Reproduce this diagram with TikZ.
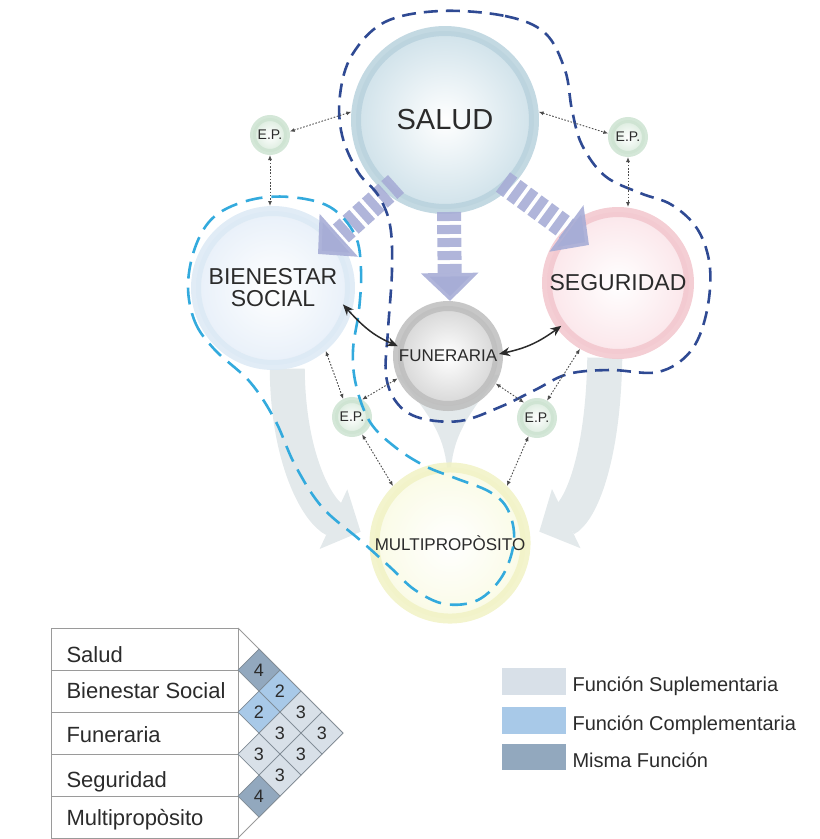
\documentclass[tikz,border=0pt]{standalone}
\usepackage{fontspec}
\setmainfont{Liberation Sans}
\usetikzlibrary{arrows.meta,calc}
\pgfdeclarelayer{bg}
\pgfsetlayers{bg,main}

\definecolor{ink}{HTML}{2B2B2B}
\definecolor{dkblue}{HTML}{2F4A93}
\definecolor{ltblue}{HTML}{33AADD}
\definecolor{stripec}{HTML}{A7ADD6}
\definecolor{flowc}{HTML}{E3E9EB}
\definecolor{saludring}{HTML}{B9D2DD}
\definecolor{saludfill}{HTML}{D0E2EA}
\definecolor{bienring}{HTML}{DCE9F5}
\definecolor{bienfill}{HTML}{E8F0F9}
\definecolor{segring}{HTML}{F2C6CD}
\definecolor{segfill}{HTML}{FBE6EA}
\definecolor{funring}{HTML}{BDBDBD}
\definecolor{funfill}{HTML}{D6D6D6}
\definecolor{multring}{HTML}{F1F2C4}
\definecolor{multfill}{HTML}{FAFBE6}
\definecolor{epring}{HTML}{CDE3D1}
\definecolor{epfill}{HTML}{DAEBDD}
\definecolor{tabline}{HTML}{9A9A9A}
\definecolor{cellline}{HTML}{7F8A94}
\definecolor{supl}{HTML}{D8E0E8}
\definecolor{compl}{HTML}{A8C9E8}
\definecolor{misma}{HTML}{92A8BE}

\begin{document}
\begin{tikzpicture}[x=1pt,y=-1pt,
  every node/.style={text=ink},
  lbl/.style={font=\fontsize{#1}{#1}\selectfont},
  orb/.style n args={4}{circle, inner sep=0pt, minimum size=#1, shade,
    inner color=white, outer color=#2, draw=#3, draw opacity=.85, line width=#4},
  flow/.style={draw=flowc, line width=35pt, -{Triangle[width=64pt,length=30pt]}},
  stripes/.style={draw=stripec, draw opacity=.9, line width=24pt,
    dash pattern=on 9pt off 4pt, -{Triangle[width=56pt,length=28pt]}},
  darkdash/.style={draw=dkblue, line width=2.6pt, dash pattern=on 14pt off 8pt},
  lightdash/.style={draw=ltblue, line width=2.6pt, dash pattern=on 17pt off 9pt},
  dotarr/.style={draw=ink!85, line width=0.9pt, dash pattern=on 1.6pt off 1.6pt,
    {Latex[length=5pt,width=4pt]}-{Latex[length=5pt,width=4pt]}},
  solidarr/.style={draw=ink, line width=1.5pt,
    {Stealth[length=11pt,width=9pt]}-{Stealth[length=11pt,width=9pt]}},
  tab/.style={draw=tabline, line width=0.8pt}
]
\useasboundingbox (0,0) rectangle (820,839);

% ---------- the five services and the four E.P. nodes ----------
\node[orb={178pt}{saludfill}{saludring}{10pt}, lbl=29] (salud) at (445,120) {SALUD};
\node[orb={154pt}{bienfill}{bienring}{10pt}, lbl=23, align=center] (bien) at (273,288)
  {BIENESTAR\\[-1pt]SOCIAL};
\node[orb={142pt}{segfill}{segring}{10pt}, lbl=23] (seg) at (618,283) {SEGURIDAD};
\node[orb={100pt}{funfill}{funring}{10pt}, lbl=17] (fun) at (448,356) {FUNERARIA};
\node[orb={96pt}{multfill}{multring}{10pt}, lbl=17] (multi) at (450,543) {MULTIPROPÒSITO};

\node[orb={34pt}{epfill}{epring}{6pt}, lbl=14] (epTL) at (270,135) {E.P.};
\node[orb={34pt}{epfill}{epring}{6pt}, lbl=14] (epTR) at (628,137) {E.P.};
\node[orb={34pt}{epfill}{epring}{6pt}, lbl=14] (epBL) at (352,417) {E.P.};
\node[orb={34pt}{epfill}{epring}{6pt}, lbl=14] (epBR) at (537,418) {E.P.};

% ---------- broad flows towards Multipropòsito (behind everything) ----------
\begin{pgfonlayer}{bg}
  \draw[flow, shorten >=10pt] (bien.-80) .. controls (288,460) and (318,512) .. (multi.175);
  \draw[flow, shorten >=10pt] (seg.-100) .. controls (603,460) and (580,512) .. (multi.5);
  \fill[flowc] (fun.-160) .. controls (440,425) and (446,445) .. (448,480)
    -- (450,480) .. controls (452,445) and (458,425) .. (fun.-20) -- cycle;
\end{pgfonlayer}

% ---------- striped arrows leaving Salud ----------
\coordinate (sL) at (396,184);
\coordinate (tL) at (318,254);
\coordinate (sM) at (449,212);
\coordinate (tM) at (450,301);
\coordinate (sR) at (503,182);
\coordinate (tR) at (589,245);
\draw[stripes] (sL) -- (tL);
\draw[stripes] (sM) -- (tM);
\draw[stripes] (sR) -- (tR);

% ---------- grouping contours ----------
\draw[darkdash] plot[smooth cycle, tension=0.6] coordinates {
  (440,11) (505,16) (545,33) (565,70) (572,110) (582,145) (605,176) (640,193)
  (672,205) (698,230) (710,268) (706,315) (690,352) (658,372) (610,370) (568,374)
  (535,390) (500,407) (460,421) (420,418) (397,403) (386,375) (388,330) (392,270)
  (390,225) (378,195) (358,172) (342,135) (340,95) (352,55) (385,22)};

\draw[lightdash] plot[smooth cycle, tension=0.6] coordinates {
  (188,285) (195,322) (215,350) (250,382) (275,420) (295,465) (322,507) (360,540)
  (390,567) (415,590) (445,604) (478,600) (503,575) (514,540) (508,510) (490,492)
  (455,478) (425,466) (395,447) (370,422) (356,385) (353,350) (359,310) (361,270)
  (355,235) (330,207) (290,197) (250,200) (215,216) (196,245)};

% ---------- direct relations ----------
\draw[solidarr, shorten <=-12pt, shorten >=-4pt] (bien.-18) to[bend right=12] (fun.168);
\draw[solidarr, shorten <=-5pt, shorten >=-4pt] (seg.-143) to[bend left=12] (fun.3);

% ---------- links through the E.P. nodes ----------
\draw[dotarr] (epTL.10) -- (salud.175);
\draw[dotarr] (salud.5) -- (epTR.170);
\draw[dotarr] (epTL.south) -- (epTL.south |- bien.north);
\draw[dotarr] (epTR.south) -- (epTR.south |- seg.north);
\draw[dotarr] (bien.-50) -- (epBL.116);
\draw[dotarr] (fun.204) -- (epBL.60);
\draw[dotarr] (epBL.-60) -- (multi.135);
\draw[dotarr] (fun.-30) -- (epBR.130);
\draw[dotarr] (seg.-120) -- (epBR.60);
\draw[dotarr] (epBR.-115) -- (multi.45);

% ---------- relation table ----------
\draw[tab] (51,628) rectangle (238,838);
\foreach \yb in {670,712,754,796} \draw[tab] (51,\yb) -- (238,\yb);
\draw[tab] (238,628) -- (343,733) -- (238,838);
\foreach \x/\y/\n/\c [count=\k] in {259/670/4/misma, 280/691/2/compl, 259/712/2/compl,
    301/712/3/supl, 280/733/3/supl, 322/733/3/supl, 259/754/3/supl, 301/754/3/supl,
    280/775/3/supl, 259/796/4/misma}{
  \filldraw[fill=\c, draw=cellline, line width=0.7pt]
    (\x-21,\y) -- (\x,\y-21) -- (\x+21,\y) -- (\x,\y+21) -- cycle;
  \node[lbl=18] (cell\k) at (\x,\y) {\n};
}
\node[lbl=22, anchor=base west] (rowA) at (63,662) {Salud};
\node[lbl=22, anchor=base west] (rowB) at (63,698) {Bienestar Social};
\node[lbl=22, anchor=base west] (rowC) at (63,742) {Funeraria};
\node[lbl=22, anchor=base west] (rowD) at (63,787) {Seguridad};
\node[lbl=22, anchor=base west] (rowE) at (63,825) {Multipropòsito};

% ---------- legend ----------
\fill[supl] (502,668) rectangle (566,695);
\fill[compl] (502,707) rectangle (566,734);
\fill[misma] (502,744) rectangle (566,770);
\node[lbl=20, anchor=base west] (legA) at (569,691) {Función Suplementaria};
\node[lbl=20, anchor=base west] (legB) at (569,730) {Función Complementaria};
\node[lbl=20, anchor=base west] (legC) at (569,767) {Misma Función};
\end{tikzpicture}
\end{document}
